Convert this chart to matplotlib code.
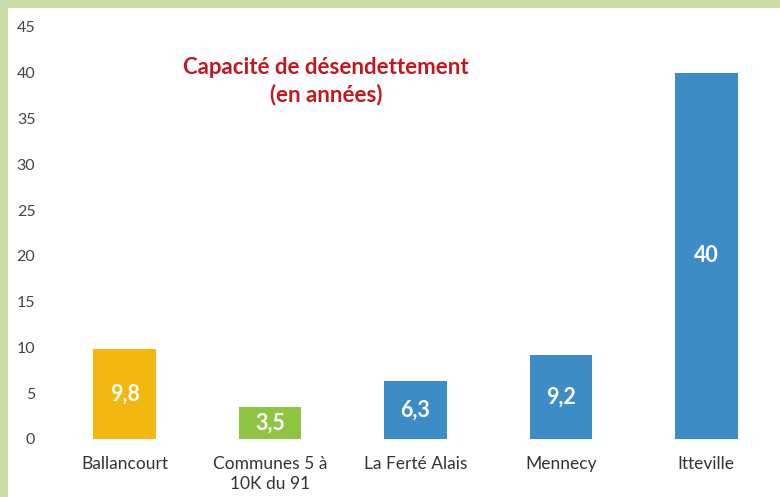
import matplotlib.pyplot as plt
from matplotlib.patches import Rectangle

# data
categories = ['Ballancourt', 'Communes 5 à\n10K du 91', 'La Ferté Alais', 'Mennecy', 'Itteville']
values = [9.8, 3.5, 6.3, 9.2, 40]
labels = ['9,8', '3,5', '6,3', '9,2', '40']
colors = ['#f2b710', '#8ec441', '#3d8cc6', '#3d8cc6', '#3d8cc6']
yticks = [0, 5, 10, 15, 20, 25, 30, 35, 40, 45]

plt.rcParams['font.family'] = ['Lato', 'DejaVu Sans']

fig = plt.figure(figsize=(7.8, 4.97), dpi=100)
fig.patch.set_facecolor('#c9dca8')
# white panel inside the green frame
fig.patches.append(Rectangle((8/780, 0), 1, 1 - 8/497, transform=fig.transFigure,
                             facecolor='white', edgecolor='none', zorder=-10))

ax = fig.add_axes([52/780, 1 - 439/497, 727/780, 412/497])
ax.set_facecolor('none')
ax.set_zorder(1)

x = range(len(categories))
bars = ax.bar(x, values, width=0.43, color=colors)
for i, b in enumerate(bars):
    ax.text(b.get_x() + b.get_width()/2, values[i]/2, labels[i],
            ha='center', va='center', color='white', fontsize=15.5, fontweight='bold')

ax.set_xlim(-0.5, 4.5)
ax.set_ylim(0, 45)
ax.set_yticks(yticks)
ax.set_xticks(list(x))
ax.set_xticklabels(categories, fontsize=12.5, color='#333333', linespacing=1.35)
ax.tick_params(axis='y', labelsize=11.5, labelcolor='#444444', length=0, pad=12)
ax.tick_params(axis='x', length=0, pad=12)
for s in ax.spines.values():
    s.set_visible(False)

ax.text(0.377, 0.869, 'Capacité de désendettement\n(en années)', transform=ax.transAxes,
        ha='center', va='center', color='#c4161c', fontsize=16, fontweight='bold',
        linespacing=1.35)

fig.savefig('out.png', dpi=100, facecolor=fig.get_facecolor())
